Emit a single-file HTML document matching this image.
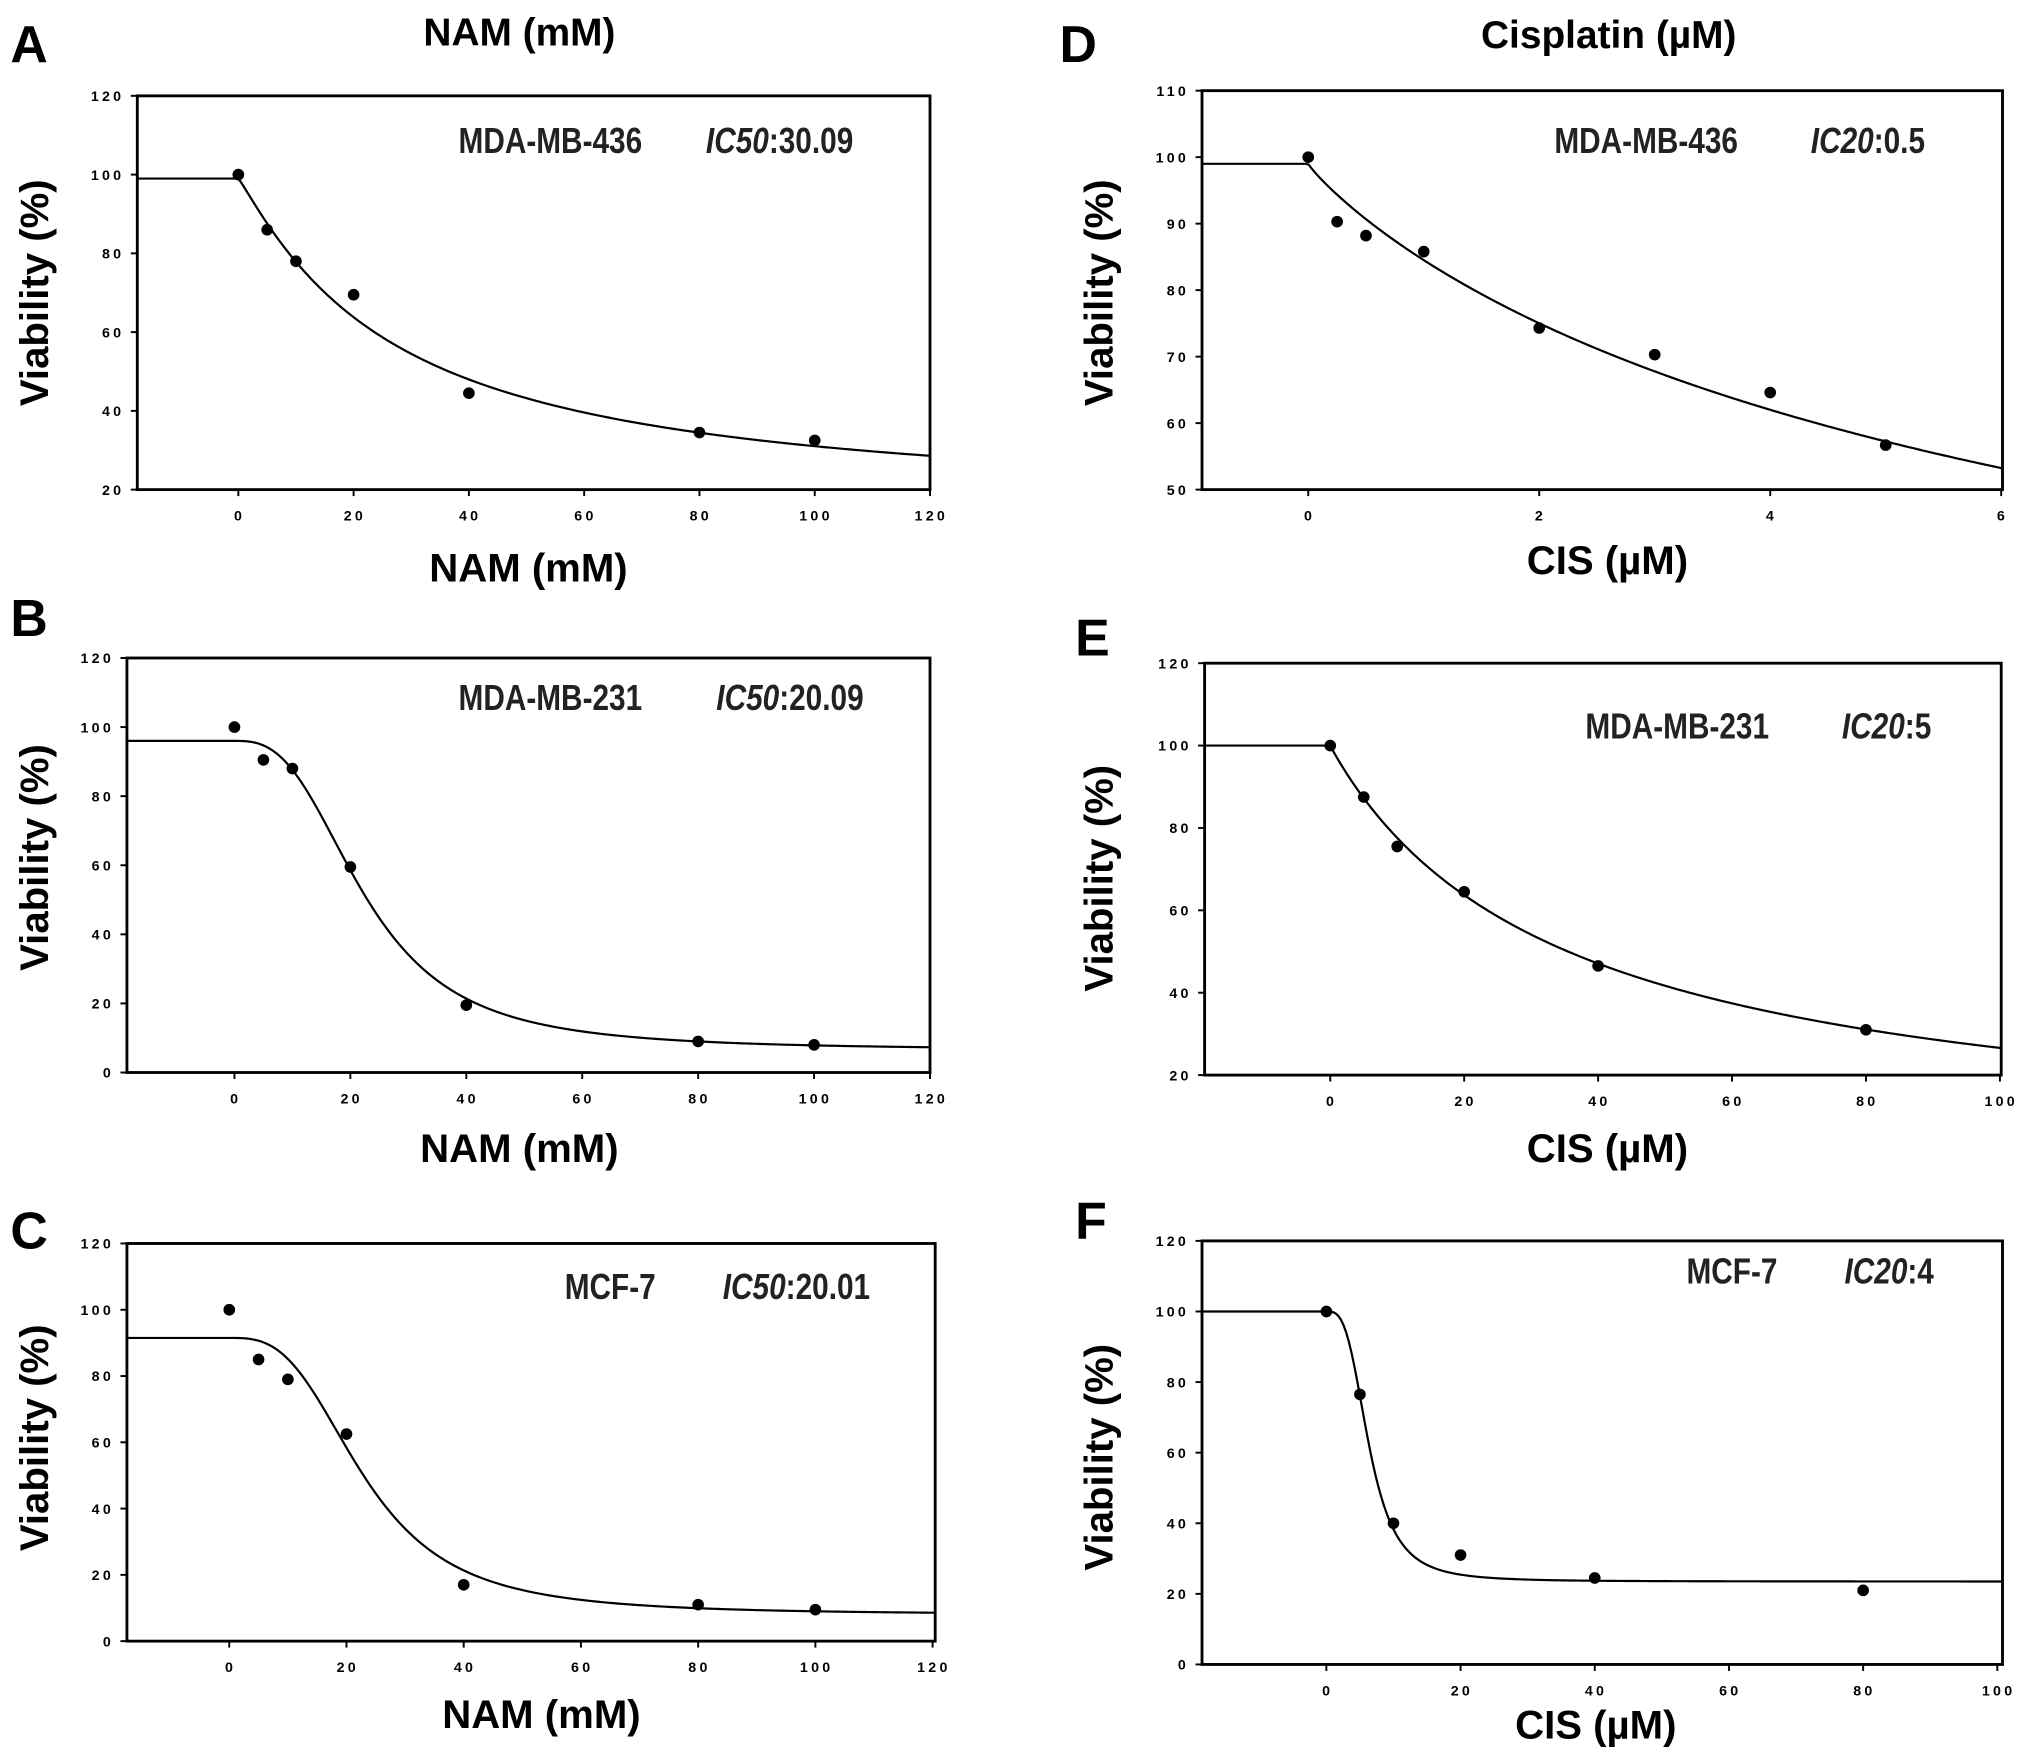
<!DOCTYPE html>
<html><head><meta charset="utf-8"><style>
html,body{margin:0;padding:0;background:#fff}
svg{display:block}
text{font-family:"Liberation Sans",Arial,sans-serif}
.tk{font-size:11px;font-weight:bold;letter-spacing:2.5px}
.yt{font-size:31px;font-weight:bold}
.xt{font-size:31px;font-weight:bold}
.pl{font-size:40px;font-weight:bold}
.an{font-size:25px;font-weight:bold;fill:#222}
</style></head><body>
<svg id="fig" width="2031" height="1748" viewBox="0 0 1568 1349.5" preserveAspectRatio="none" xmlns="http://www.w3.org/2000/svg">
<text class="pl" x="8" y="48">A</text>
<text class="xt" x="401" y="35" text-anchor="middle" style="font-size:30px">NAM (mM)</text>
<text class="pl" x="818" y="48">D</text>
<text class="xt" x="1242" y="37" text-anchor="middle" style="font-size:30px">Cisplatin (µM)</text>
<text class="pl" x="8" y="491">B</text>
<text class="pl" x="8" y="964">C</text>
<text class="pl" x="830" y="506">E</text>
<text class="pl" x="830" y="956">F</text>
</svg>
<script>
// Panel A data
const aX=[0,5,10,20,40,80,100];
const aY=[100,86,78,69.5,44.5,34.5,32.5];
const aFit=[99,15,26.9,1.1]; // top,bottom,ec50,hill
const aYTicks=[20,40,60,80,100,120];
const aXTicks=[0,20,40,60,80,100,120];
// Panel B data
const bX=[0,5,10,20,40,80,100];
const bY=[100,90.5,88,59.5,19.5,9,8];
const bFit=[96,6.5,22.5,2.8];
const bYTicks=[0,20,40,60,80,100,120];
const bXTicks=[0,20,40,60,80,100,120];
// Panel C data
const cX=[0,5,10,20,40,80,100];
const cY=[100,85,79,62.5,17,11,9.5];
const cFit=[91.5,8,23,3];
const cYTicks=[0,20,40,60,80,100,120];
const cXTicks=[0,20,40,60,80,100,120];
// Panel D data
const dX=[0,0.25,0.5,1,2,3,4,5];
const dY=[100,90.3,88.2,85.8,74.3,70.3,64.6,56.7];
const dFit=[99,0,7.1,0.9];
const dYTicks=[50,60,70,80,90,100,110];
const dXTicks=[0,2,4,6];
// Panel E data
const eX=[0,5,10,20,40,80];
const eY=[100,87.5,75.5,64.5,46.5,31];
const eFit=[100,0,35.5,0.98];
const eYTicks=[20,40,60,80,100,120];
const eXTicks=[0,20,40,60,80,100];
// Panel F data
const fX=[0,5,10,20,40,80];
const fY=[100,76.5,40,31,24.5,21];
const fFit=[100,23.5,6.4,3.2];
const fYTicks=[0,20,40,60,80,100,120];
const fXTicks=[0,20,40,60,80,100];

const NS="http://www.w3.org/2000/svg";
const svg=document.getElementById('fig');
function mk(tag,attrs,parent){const e=document.createElementNS(NS,tag);for(const k in attrs)e.setAttribute(k,attrs[k]);(parent||svg).appendChild(e);return e;}

function panel(id,cfg,xs,ys,fit,yt,xt){
  const g=mk('g',{});
  
  
  const [L,R,T,B]=cfg.box;
  const sx=v=>cfg.x0px+(v-cfg.x0)*(cfg.x1px-cfg.x0px)/(cfg.x1-cfg.x0);
  const sy=v=>B+(v-cfg.ymin)*(T-B)/(cfg.ymax-cfg.ymin);
  const xmin=cfg.x0+(L-cfg.x0px)*(cfg.x1-cfg.x0)/(cfg.x1px-cfg.x0px);
  const xmax=cfg.x0+(R-cfg.x0px)*(cfg.x1-cfg.x0)/(cfg.x1px-cfg.x0px);
  const fr=mk('rect',{x:L,y:T,width:R-L,height:B-T,fill:'none',stroke:'#000','stroke-width':2.2},g);
  
  
  yt.forEach(v=>{
    const t=mk('text',{x:L-10,y:sy(v)+4,'text-anchor':'end',class:'tk'},g);t.textContent=v;
    
    
    mk('line',{x1:L-5,x2:L,y1:sy(v),y2:sy(v),stroke:'#000','stroke-width':1.5},g);
  });
  xt.forEach(v=>{
    const t=mk('text',{x:sx(v)+1,y:B+24,'text-anchor':'middle',class:'tk'},g);t.textContent=v;
    
    
    mk('line',{x1:sx(v),x2:sx(v),y1:B,y2:B+5,stroke:'#000','stroke-width':1.5},g);
  });
  const [top,bot,c,h]=fit;
  let d='';
  for(let i=0;i<=300;i++){
    const x=xmin+(xmax-xmin)*i/300;
    const y=x<=0?top:bot+(top-bot)/(1+Math.pow(x/c,h));
    d+=(i?'L':'M')+sx(x).toFixed(2)+' '+sy(y).toFixed(2);
  }
  const p=mk('path',{d:d,fill:'none',stroke:'#000','stroke-width':1.7},g);
  
  
  xs.forEach((x,i)=>{
    const pt=mk('circle',{cx:sx(x),cy:sy(ys[i]),r:4.5,fill:'#000'},g);
    
    
  });
  const yl=mk('text',{x:0,y:0,class:'yt','text-anchor':'middle',transform:`translate(${cfg.ytPos[0]},${cfg.ytPos[1]}) rotate(-90)`},g);
  yl.textContent='Viability (%)';
  
  
  const xl=mk('text',{x:cfg.xtPos[0],y:cfg.xtPos[1],class:'xt','text-anchor':'middle'},g);
  xl.textContent=cfg.xtitle;
  
  
  const a1=mk('text',{x:0,y:0,class:'an',transform:`translate(${cfg.an[0]},${cfg.an[2]}) scale(0.92,1.12)`},g);
  a1.textContent=cfg.cell;
  
  
  const a2=mk('text',{x:0,y:0,class:'an',transform:`translate(${cfg.an[1]},${cfg.an[2]}) scale(0.92,1.12)`},g);
  const ti=mk('tspan',{'font-style':'italic'},a2);ti.textContent=cfg.icName;
  const tv=mk('tspan',{},a2);tv.textContent=':'+cfg.icVal;
  
  
}

panel('a',{box:[106,718,74,378],x0:0,x0px:184,x1:120,x1px:718,ymin:20,ymax:120,ytPos:[37,226],xtPos:[408,449],xtitle:'NAM (mM)',an:[354,545,118],cell:'MDA-MB-436',icName:'IC50',icVal:'30.09'},aX,aY,aFit,aYTicks,aXTicks);
panel('b',{box:[98,718,508,828],x0:0,x0px:181,x1:120,x1px:718,ymin:0,ymax:120,ytPos:[37,662],xtPos:[401,897],xtitle:'NAM (mM)',an:[354,553,548],cell:'MDA-MB-231',icName:'IC50',icVal:'20.09'},bX,bY,bFit,bYTicks,bXTicks);
panel('c',{box:[98,722,960,1267],x0:0,x0px:177,x1:120,x1px:720,ymin:0,ymax:120,ytPos:[37,1110],xtPos:[418,1334],xtitle:'NAM (mM)',an:[436,558,1003],cell:'MCF-7',icName:'IC50',icVal:'20.01'},cX,cY,cFit,cYTicks,cXTicks);
panel('d',{box:[928,1546,70,378],x0:0,x0px:1010,x1:6,x1px:1545,ymin:50,ymax:110,ytPos:[859,226],xtPos:[1241,443],xtitle:'CIS (µM)',an:[1200,1398,118],cell:'MDA-MB-436',icName:'IC20',icVal:'0.5'},dX,dY,dFit,dYTicks,dXTicks);
panel('e',{box:[930,1545,512,830],x0:0,x0px:1027,x1:100,x1px:1544,ymin:20,ymax:120,ytPos:[859,678],xtPos:[1241,897],xtitle:'CIS (µM)',an:[1224,1422,570],cell:'MDA-MB-231',icName:'IC20',icVal:'5'},eX,eY,eFit,eYTicks,eXTicks);
panel('f',{box:[928,1546,958,1285],x0:0,x0px:1024,x1:100,x1px:1542,ymin:0,ymax:120,ytPos:[859,1125],xtPos:[1232,1342],xtitle:'CIS (µM)',an:[1302,1424,991],cell:'MCF-7',icName:'IC20',icVal:'4'},fX,fY,fFit,fYTicks,fXTicks);
</script>
</body></html>
